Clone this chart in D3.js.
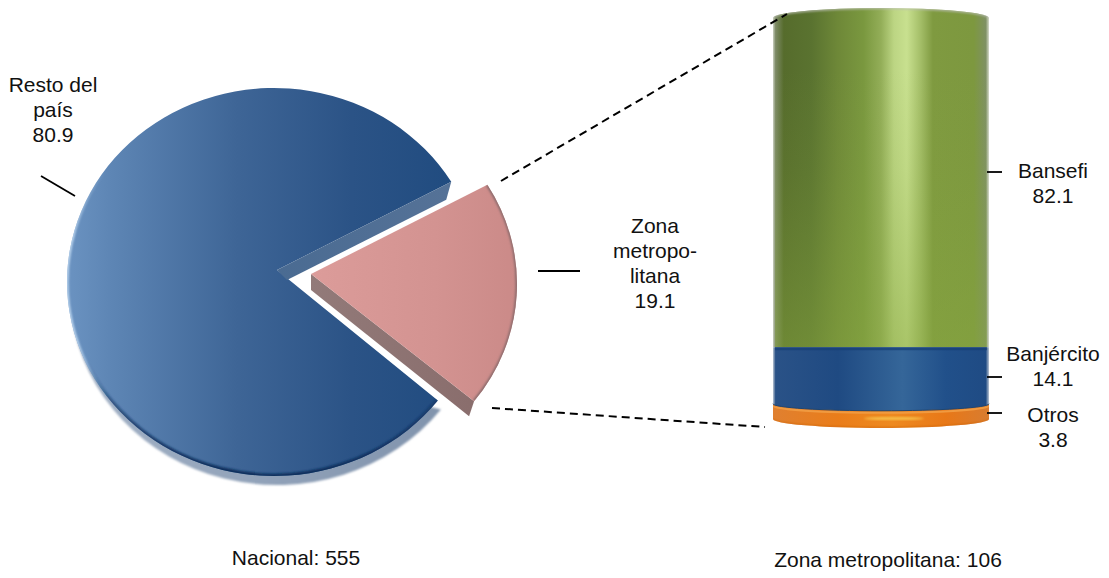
<!DOCTYPE html>
<html><head><meta charset="utf-8">
<script src="https://cdnjs.cloudflare.com/ajax/libs/d3/7.8.5/d3.min.js"></script>
<style>html,body{margin:0;padding:0;background:#fff}svg{display:block}text{font-family:"Liberation Sans",Arial,sans-serif;font-size:21px;fill:#111;text-anchor:middle}</style>
</head><body><script>
const pieCategories = ["Zona metropolitana", "Resto del país"];
const pieValues = [19.1, 80.9];
const pieLabels = [["Zona","metropo-","litana","19.1"],["Resto del","país","80.9"]];
const cylCategories = ["Otros","Banjército","Bansefi"];
const cylValues = [3.8, 14.1, 82.1];
const captions = ["Nacional: 555","Zona metropolitana: 106"];

const W=1109,H=578;
const svg=d3.select("body").append("svg").attr("width",W).attr("height",H);
const defs=svg.append("defs");
function grad(id,stops,x1,x2,y1,y2){
  const g=defs.append("linearGradient").attr("id",id).attr("gradientUnits","userSpaceOnUse")
    .attr("x1",x1).attr("x2",x2).attr("y1",y1).attr("y2",y2);
  stops.forEach(s=>g.append("stop").attr("offset",s[0]).attr("stop-color",s[1]).attr("stop-opacity",s[2]===undefined?1:s[2]));
}
[["b1",1],["b2",2],["b4",4]].forEach(([id,s])=>defs.append("filter").attr("id",id).attr("x","-10%").attr("y","-10%").attr("width","120%").attr("height","120%")
  .append("feGaussianBlur").attr("stdDeviation",s));

const cylX0=773,cylX1=989;
grad("gBlue",[[0,"#6b93c1"],[.12,"#5d85b4"],[.45,"#3e6596"],[.75,"#2b5386"],[1,"#214c80"]],67,447,0,0);
grad("gPink",[[0,"#dc9c9a"],[.6,"#d39391"],[1,"#cb8a88"]],311,517,0,0);
grad("gPinkWall",[[0,"#927a79"],[1,"#8a6e6d"]],311,470,0,0);
grad("gBack",[[0,"#a3b2c6"],[1,"#7d90aa"]],67,480,0,0);
grad("gWall",[[0,"#4a6b92"],[1,"#557297"]],277,447,0,0);
grad("gDark",[[0,"#0d315f",0],[.35,"#0d315f",.55],[1,"#0b2e5c",1]],0,0,360,470);
grad("gLight",[[0,"#c6def5",0],[.3,"#c6def5",.9],[.75,"#c6def5",.9],[1,"#c6def5",0]],0,0,170,400);
const cx=t=>cylX0+t*(cylX1-cylX0);
grad("gGreen",[[0,"#c9cfc0"],[.012,"#7d8a66"],[.05,"#566c2c"],[.18,"#5a7330"],[.3,"#6e8838"],[.42,"#7a983f"],[.5,"#93ae58"],[.56,"#bcd583"],[.62,"#c8e08f"],[.68,"#a6c06a"],[.74,"#7f9a40"],[.93,"#7d983f"],[.985,"#7f9163"],[1,"#d5dacb"]],cylX0,cylX1,0,0);
grad("gGreenFade",[[0,"#86a63e",0],[.35,"#86a63e",.12],[1,"#88a83f",.48]],0,0,70,348);
grad("gNavy",[[0,"#b9c4d2"],[.012,"#2a5287"],[.3,"#1f4a82"],[.6,"#356699"],[.8,"#21508a"],[.985,"#1f4b84"],[1,"#b9c4d2"]],cylX0,cylX1,0,0);
grad("gOrange",[[0,"#e08030"],[.3,"#ea7d1a"],[.55,"#ee8a20"],[.8,"#e87818"],[1,"#d87c30"]],cylX0,cylX1,0,0);

/* ---------- pie ---------- */
const deg=Math.PI/180;
const arcs=d3.pie().sort(null).startAngle(58.9*deg).endAngle((58.9+360)*deg)(pieValues);
const geo={ blue:{ax:277,ay:270,ex:274,ey:282,rx:207,ry:194}, pink:{ax:311,ay:274,ex:311,ey:284,rx:206,ry:192} };
const pt=(g,a)=>[g.ex+g.rx*Math.sin(a),g.ey-g.ry*Math.cos(a)];
function arcD(g,a0,a1){
  const p0=pt(g,a0),p1=pt(g,a1);
  return `M${p0}A${g.rx},${g.ry} 0 ${a1-a0>Math.PI?1:0} 1 ${p1}`;
}
const sector=(g,d)=>{const p0=pt(g,d.startAngle),p1=pt(g,d.endAngle);
  return `M${g.ax},${g.ay}L${p0}A${g.rx},${g.ry} 0 ${d.endAngle-d.startAngle>Math.PI?1:0} 1 ${p1}Z`;};

const pink=arcs[0],blue=arcs[1];
const gp=svg.append("g");
/* extrusion behind */
gp.append("path").attr("transform","translate(3,9)").attr("d",arcD(geo.blue,blue.startAngle,262*deg)+"Z").attr("fill","url(#gBack)").attr("filter","url(#b1)");
/* face */
const bPath=sector(geo.blue,blue);
defs.append("clipPath").attr("id","cBlue").append("path").attr("d",bPath);
gp.append("path").attr("d",bPath).attr("fill","url(#gBlue)");
const bev=gp.append("g").attr("clip-path","url(#cBlue)");
bev.append("path").attr("d",arcD(geo.blue,blue.startAngle,262*deg)).attr("fill","none").attr("stroke","url(#gDark)").attr("stroke-width",5).attr("filter","url(#b1)");
bev.append("path").attr("d",arcD(geo.blue,232*deg,340*deg)).attr("fill","none").attr("stroke","url(#gLight)").attr("stroke-width",3).attr("filter","url(#b1)");
/* blue cut wall */
const bEnd=pt(geo.blue,blue.endAngle);
gp.append("path").attr("fill","url(#gWall)")
  .attr("d",d3.line()([[bEnd[0],bEnd[1]],[bEnd[0]-5,bEnd[1]+18],[geo.blue.ax+10,geo.blue.ay+10],[geo.blue.ax,geo.blue.ay]])+"Z");
/* pink wall */
const pS=pt(geo.pink,pink.endAngle);
gp.append("path").attr("fill","url(#gPinkWall)")
  .attr("d",d3.line()([[geo.pink.ax,geo.pink.ay],[geo.pink.ax,geo.pink.ay+16],[pS[0]-5,pS[1]+15],[pS[0],pS[1]]])+"Z");
/* pink face */
const pPath=sector(geo.pink,pink);
defs.append("clipPath").attr("id","cPink").append("path").attr("d",pPath);
gp.append("path").attr("d",pPath).attr("fill","url(#gPink)");
gp.append("g").attr("clip-path","url(#cPink)").append("path")
  .attr("d",arcD(geo.pink,pink.startAngle,pink.endAngle)).attr("fill","none").attr("stroke","#86696a").attr("stroke-width",3).attr("filter","url(#b1)");

/* ---------- cylinder ---------- */
const y=d3.scaleLinear().domain([0,100]).range([419,18]);
const stack=d3.cumsum(cylValues);
const gc=svg.append("g");
const R=(cylX1-cylX0)/2;
function seg(bot,top,ryTop,ryBot){
  let s=`M${cylX0},${top}`;
  if(ryTop) s+=`A${R},${ryTop} 0 0 1 ${cylX1},${top}`; else s+=`L${cylX1},${top}`;
  s+=`L${cylX1},${bot}`;
  if(ryBot) s+=`A${R},${ryBot} 0 0 1 ${cylX0},${bot}`; else s+=`L${cylX0},${bot}`;
  return s+"Z";
}
const segs=cylCategories.map((c,i)=>({c,bot:y(i?stack[i-1]:0),top:y(stack[i])}));
const os=segs[0],ns=segs[1],gs=segs[2];
gc.append("path").attr("d",seg(os.bot,os.top,0,9)).attr("fill","url(#gOrange)");
gc.append("path").attr("d",seg(gs.bot,gs.top,10,0)).attr("fill","url(#gGreen)");
gc.append("path").attr("d",seg(ns.bot,ns.top,0,7)).attr("fill","url(#gNavy)");
/* green vertical fade of the highlight */
defs.append("clipPath").attr("id","cGreen").append("path").attr("d",seg(gs.bot,gs.top,10,0));
const gg=gc.append("g").attr("clip-path","url(#cGreen)");
gg.append("rect").attr("x",cylX0+2).attr("width",cylX1-cylX0-4).attr("y",gs.top-12).attr("height",gs.bot-gs.top+12).attr("fill","url(#gGreenFade)");
gg.append("path").attr("d",`M${cylX0},${gs.top}A${R},10 0 0 1 ${cylX1},${gs.top}`).attr("fill","none").attr("stroke","#b9bdb0").attr("stroke-width",2).attr("filter","url(#b1)");
/* seam at top of navy */
gc.append("rect").attr("x",cylX0+2).attr("width",cylX1-cylX0-4).attr("y",ns.top).attr("height",3).attr("fill","#173f75").attr("opacity",.7);
/* orange lip & glow */
defs.append("clipPath").attr("id","cOrange").append("path").attr("d",seg(os.bot,os.top,0,9));
const go=gc.append("g").attr("clip-path","url(#cOrange)");
go.append("path").attr("d",`M${cylX0},${os.top+2}A${R},7 0 0 0 ${cylX1},${os.top+2}`).attr("fill","none").attr("stroke","#f09a40").attr("stroke-width",2);
go.append("path").attr("d",`M${cylX0},${os.bot}A${R},9 0 0 0 ${cylX1},${os.bot}`).attr("fill","none").attr("stroke","#d0680f").attr("stroke-width",1.5).attr("filter","url(#b1)");
go.append("ellipse").attr("cx",cx(.56)).attr("cy",os.bot-.5).attr("rx",30).attr("ry",1.3).attr("fill","#f8c850").attr("filter","url(#b1)");
gc.append("path").attr("d",`M${cylX0},${ns.bot}A${R},7 0 0 0 ${cylX1},${ns.bot}`).attr("fill","none").attr("stroke","#1f4672").attr("stroke-width",1);

/* ---------- lines ---------- */
const L=svg.append("g").attr("stroke","#000").attr("fill","none");
[[41,176,75,196],[538,271,580,271],[987,172,1002,172],[987,377,1002,377],[987,413,1002,413]].forEach(l=>
  L.append("line").attr("x1",l[0]).attr("y1",l[1]).attr("x2",l[2]).attr("y2",l[3]).attr("stroke-width",1.8));
[[501,181,787,14],[492,408,765,427]].forEach(l=>
  L.append("line").attr("x1",l[0]).attr("y1",l[1]).attr("x2",l[2]).attr("y2",l[3]).attr("stroke-width",2).attr("stroke-dasharray","8,5"));

/* ---------- text ---------- */
function block(x,y0,lines){const t=svg.append("text");
  lines.forEach((s,i)=>t.append("tspan").attr("x",x).attr("y",y0+i*25).text(s));}
block(53,92,pieLabels[1]);
block(655,233,pieLabels[0]);
block(1053,178,[cylCategories[2],cylValues[2].toFixed(1)]);
block(1053,361,[cylCategories[1],cylValues[1].toFixed(1)]);
block(1053,422,[cylCategories[0],cylValues[0].toFixed(1)]);
block(296,565,[captions[0]]);
block(888,567,[captions[1]]);
</script></body></html>
